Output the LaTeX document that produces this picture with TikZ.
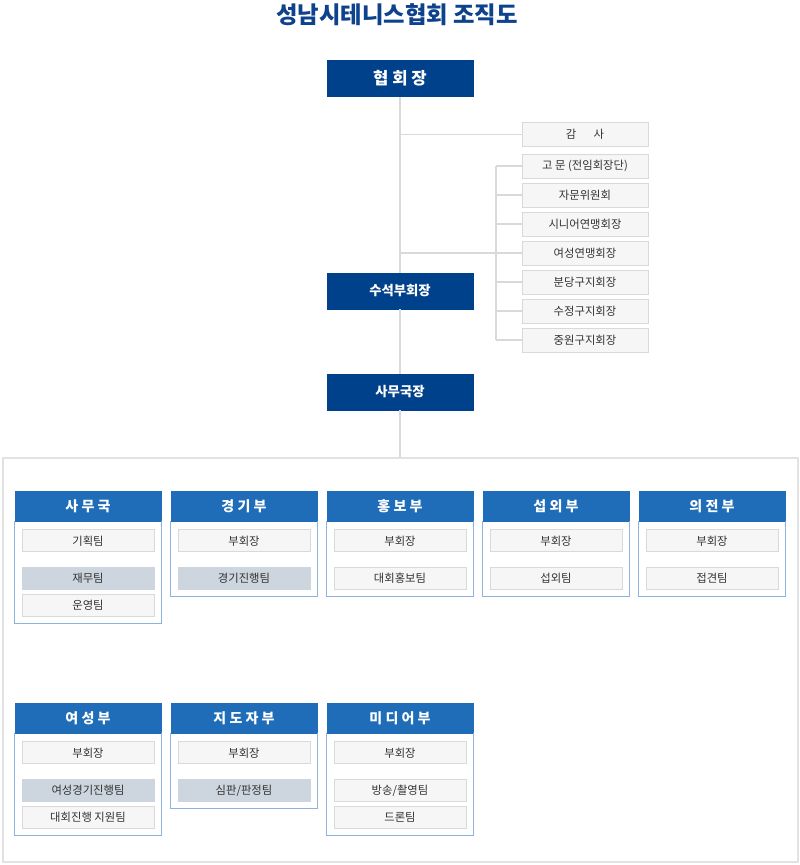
\documentclass[tikz,border=0pt]{standalone}
\usepackage{fontspec}
\newfontfamily\kr{Noto Sans CJK KR}
\usetikzlibrary{positioning}
\definecolor{navy}{HTML}{00418C}
\definecolor{titleblue}{HTML}{0E428C}
\definecolor{deptblue}{HTML}{1F6DB8}
\definecolor{deptline}{HTML}{8DB3DC}
\definecolor{teamfill}{HTML}{F6F6F6}
\definecolor{teamline}{HTML}{D9D9D9}
\definecolor{grayfill}{HTML}{CDD5DE}
\definecolor{linkgray}{HTML}{D9D9D9}
\definecolor{panelline}{HTML}{E2E2E2}
\tikzset{
  head/.style={fill=navy, draw=navy, text=white, inner sep=0pt,
    font=\kr\bfseries\fontsize{10}{12}\selectfont,
    minimum width=109.5pt, minimum height=27pt},
  side/.style={fill=teamfill, draw=teamline, line width=0.75pt, text=black!80, inner sep=0pt,
    font=\kr\fontsize{8.5}{10}\selectfont,
    minimum width=94.5pt, minimum height=18pt},
  dept/.style={fill=deptblue, draw=deptblue, text=white, inner sep=0pt,
    font=\kr\bfseries\fontsize{10.5}{12}\selectfont,
    minimum width=109.5pt, minimum height=22.5pt},
  team/.style={fill=teamfill, draw=teamline, line width=0.75pt, text=black!80, inner sep=0pt,
    font=\kr\fontsize{8.5}{10}\selectfont,
    minimum width=99pt, minimum height=16.5pt},
  teamgray/.style={team, fill=grayfill, draw=grayfill},
  body/.style={draw=deptline, line width=0.75pt},
  link/.style={draw=linkgray, line width=0.9pt},
}
\begin{document}
\begin{tikzpicture}[x=0.75pt, y=-0.75pt]
    \useasboundingbox (0,0) rectangle (800,865);
    % Title
    \node[text=titleblue, font=\kr\bfseries\fontsize{17.5}{19}\selectfont] (title) at (397,15) {성남시테니스협회 조직도};
    % Top of the chart
    \node[head, font=\kr\bfseries\fontsize{12.5}{14}\selectfont] (chief) at (400,78.5) {협 회 장};
    \node[head] (vice) at (400,291) {수석부회장};
    \node[head] (sec) at (400,392) {사무국장};
    \node[draw=panelline, line width=0.9pt, minimum width=596.25pt, minimum height=303pt] (panel) at (400.5,660) {};
    \draw[link] (chief) -- (vice) -- (sec) -- (sec |- panel.north);
    % Audit and advisory boxes on the right
    \node[side] (audit) at (585,134.5) {감\hspace{13pt}사};
    \draw[link] (audit) -- (audit -| chief);
    \foreach \i/\t in {1/고 문 (전임회장단), 2/자문위원회, 3/시니어연맹회장, 4/여성연맹회장,
        5/분당구지회장, 6/수정구지회장, 7/중원구지회장}
        \node[side] (adv\i) at (585,{137+29*\i}) {\t};
    \coordinate (bk) at (496,166);
    \foreach \i in {1,...,7}
        \draw[link] (adv\i) -- (adv\i -| bk);
    \draw[link] (adv1 -| bk) -- (adv7 -| bk);
    \draw[link] (adv4 -| chief) -- (adv4 -| bk);
    % Departments: name/label/x/y/first team/second team/style
    \foreach \d/\t/\x/\y/\a/\s/\st in {
        ofc/사 무 국/88/506/기획팀/재무팀/teamgray,
        game/경 기 부/244/506/부회장/경기진행팀/teamgray,
        pr/홍 보 부/400/506/부회장/대회홍보팀/team,
        ext/섭 외 부/556/506/부회장/섭외팀/team,
        prot/의 전 부/712/506/부회장/접견팀/team,
        wom/여 성 부/88/718/부회장/여성경기진행팀/teamgray,
        coach/지 도 자 부/244/718/부회장/{심판/판정팀}/teamgray,
        media/미 디 어 부/400/718/부회장/{방송/촬영팀}/team} {
        \node[dept] (\d) at (\x,\y) {\t};
        \node[team, below=6pt of \d] (\d-1) {\a};
        \node[\st, below=11pt of \d-1] (\d-2) {\s};
    }
    \foreach \d/\t in {ofc/운영팀, wom/대회진행 지원팀, media/드론팀}
        \node[team, below=3pt of \d-2] (\d-3) {\t};
    % Department frames
    \foreach \d/\k in {ofc/3, game/2, pr/2, ext/2, prot/2, wom/3, coach/2, media/3}
        \draw[body] (\d.south west) |- ([yshift=-5.25pt]\d-\k.south) -| (\d.south east);
\end{tikzpicture}
\end{document}
